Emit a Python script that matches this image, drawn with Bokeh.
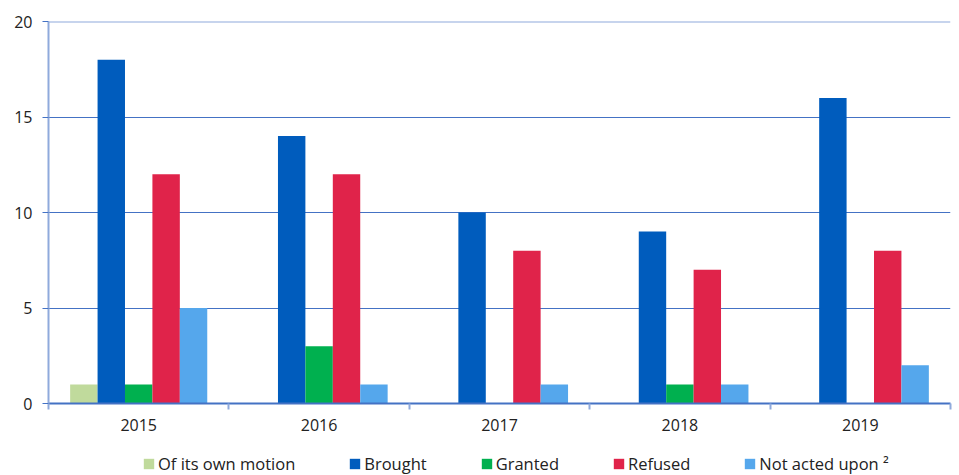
from bokeh.plotting import figure
from bokeh.models import ColumnDataSource, FixedTicker, Legend, LegendItem, Range1d, Span
from bokeh.layouts import column
from bokeh.transform import dodge
from bokeh.embed import file_html
from bokeh.resources import INLINE

years = ["2015", "2016", "2017", "2018", "2019"]
own_motion = [1, 0, 0, 0, 0]
brought = [18, 14, 10, 9, 16]
granted = [1, 3, 0, 1, 0]
refused = [12, 12, 8, 7, 8]
not_acted = [5, 1, 1, 1, 2]
series_names = ["Of its own motion", "Brought", "Granted", "Refused", "Not acted upon ²"]
y_ticks = [0, 5, 10, 15, 20]

colors = ["#C0DA9C", "#005CBD", "#00B04F", "#E0234A", "#55A7EC"]
FONT = "Open Sans"
keys = ["s0", "s1", "s2", "s3", "s4"]

centers = [i + 0.5 for i in range(len(years))]
source = ColumnDataSource(dict(x=centers, s0=own_motion, s1=brought, s2=granted,
                               s3=refused, s4=not_acted))

p = figure(width=959, height=450, output_backend="svg", toolbar_location=None,
           x_range=Range1d(0, len(years)), y_range=Range1d(0, y_ticks[-1]),
           min_border_top=21, min_border_left=48, min_border_right=9, min_border_bottom=47)
p.outline_line_color = None
p.background_fill_color = "white"
p.border_fill_color = "white"

bw = 0.152
for k, key in enumerate(keys):
    p.vbar(x=dodge("x", (k - 2) * bw, range=p.x_range), top=key, width=bw,
           bottom=0, source=source, fill_color=colors[k], line_color=None)

# grid
p.xgrid.grid_line_color = None
p.ygrid.ticker = FixedTicker(ticks=y_ticks)
p.ygrid.grid_line_color = "#4472C4"
p.ygrid.grid_line_width = 1
p.add_layout(Span(location=y_ticks[-1], dimension="width", line_color="#8FAADC", line_width=2))

# y axis
p.yaxis.ticker = FixedTicker(ticks=y_ticks)
p.yaxis.axis_line_color = "#8FAADC"
p.yaxis.axis_line_width = 2
p.yaxis.major_tick_line_color = "#4472C4"
p.yaxis.major_tick_out = 6
p.yaxis.major_tick_in = 0
p.yaxis.minor_tick_line_color = None
p.yaxis.major_label_text_font = FONT
p.yaxis.major_label_text_font_size = "16px"
p.yaxis.major_label_text_color = "#222222"
p.yaxis.major_label_standoff = 10

# x axis: labels at centres, tick marks at category boundaries
p.xaxis.ticker = FixedTicker(ticks=centers, minor_ticks=list(range(len(years) + 1)))
p.xaxis.major_label_overrides = {c: y for c, y in zip(centers, years)}
p.xaxis.major_tick_line_color = None
p.xaxis.minor_tick_line_color = "#8FAADC"
p.xaxis.minor_tick_line_width = 2
p.xaxis.minor_tick_out = 6
p.xaxis.minor_tick_in = 0
p.xaxis.axis_line_color = "#4472C4"
p.xaxis.axis_line_width = 2
p.xaxis.major_label_text_font = FONT
p.xaxis.major_label_text_font_size = "16px"
p.xaxis.major_label_text_color = "#222222"
p.xaxis.major_label_standoff = 9

# legend strip (bars drawn far outside its visible range, only the legend shows)
lf = figure(width=959, height=25, output_backend="svg", toolbar_location=None,
            x_range=Range1d(0, len(years)), y_range=Range1d(1000, 1001),
            x_axis_location=None, y_axis_location=None,
            min_border_top=0, min_border_left=0, min_border_right=0, min_border_bottom=0)
lf.grid.visible = False
lf.outline_line_color = None
items = []
for k, (key, name) in enumerate(zip(keys, series_names)):
    r = lf.vbar(x="x", top=key, width=bw, bottom=0, source=source,
                fill_color=colors[k], line_color=None)
    items.append(LegendItem(label=name, renderers=[r]))

legend = Legend(items=items, orientation="horizontal", location=(94, 0),
                label_text_font=FONT, label_text_font_size="16.5px",
                label_text_color="#222222", glyph_width=13, glyph_height=13,
                spacing=53, label_standoff=3, padding=2, margin=0,
                border_line_color=None, background_fill_alpha=0)
lf.add_layout(legend)

layout = column(p, lf, spacing=0)
open("out.html", "w").write(file_html(layout, INLINE))
